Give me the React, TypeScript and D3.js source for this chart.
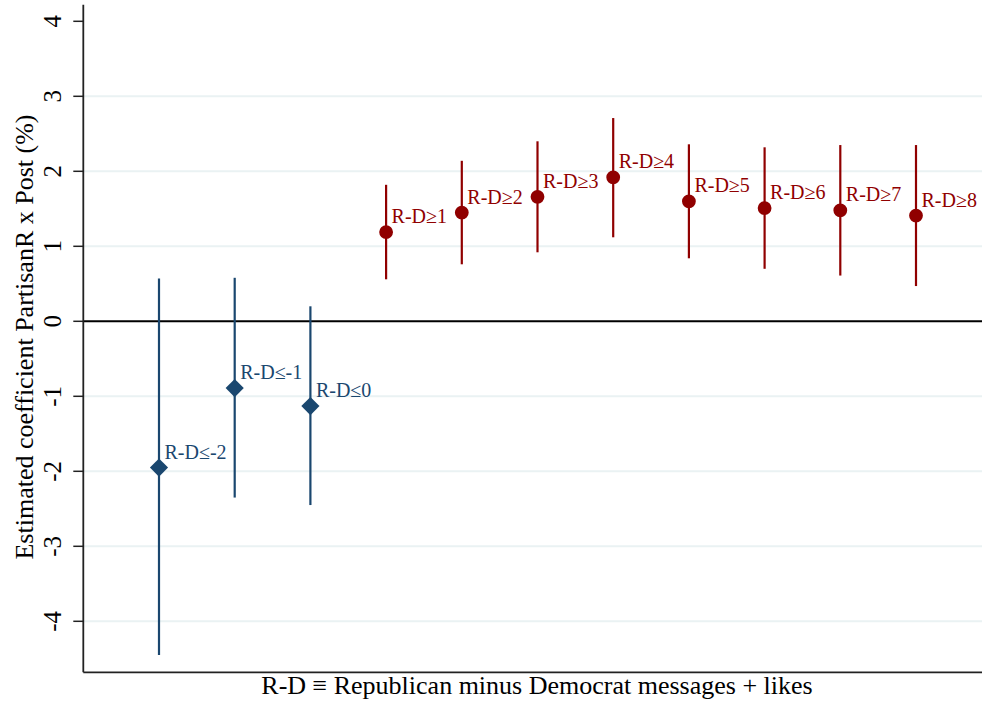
import React from "react";
import * as d3 from "d3";

const blueLabels = ["R-D≤-2", "R-D≤-1", "R-D≤0"];
const blueX = [-2, -1, 0];
const blueEst = [-1.95, -0.89, -1.13];
const blueLo = [-4.45, -2.35, -2.45];
const blueHi = [0.57, 0.58, 0.2];

const redLabels = ["R-D≥1", "R-D≥2", "R-D≥3", "R-D≥4", "R-D≥5", "R-D≥6", "R-D≥7", "R-D≥8"];
const redX = [1, 2, 3, 4, 5, 6, 7, 8];
const redEst = [1.19, 1.45, 1.66, 1.92, 1.6, 1.51, 1.48, 1.41];
const redLo = [0.56, 0.76, 0.92, 1.12, 0.84, 0.7, 0.61, 0.47];
const redHi = [1.82, 2.14, 2.4, 2.71, 2.36, 2.32, 2.35, 2.35];

const yTicks = [-4, -3, -2, -1, 0, 1, 2, 3, 4];
const gridValues = [-4, -3, -2, -1, 1, 2, 3];

const W = 982;
const H = 701;
const BLUE = "#1a476f";
const RED = "#900000";
const FONT = "'Liberation Serif', 'Times New Roman', serif";

export default function App() {
  const x = d3.scaleLinear().domain([-3, 9]).range([83.3, 83.3 + 12 * 75.7]);
  const y = d3.scaleLinear().domain([0, 1]).range([321.3, 246.3]);
  const left = 83.3;
  const right = 982;
  const bottom = y(-4.68);
  const top = y(4.22);
  const diamond = d3.symbol().type(d3.symbolSquare).size(165);
  const circle = d3.symbol().type(d3.symbolCircle).size(150);

  return (
    <svg width={W} height={H} style={{ position: "absolute", left: 0, top: 0, background: "#fff" }} fontFamily={FONT}>
      <rect x={0} y={0} width={W} height={H} fill="#fff" />
      {gridValues.map((v) => (
        <line key={"g" + v} x1={left} x2={right} y1={y(v)} y2={y(v)} stroke="#eaf2f3" strokeWidth={2} />
      ))}
      <line x1={left} x2={right} y1={y(0)} y2={y(0)} stroke="#000" strokeWidth={2} />
      {/* blue series */}
      {blueX.map((xv, i) => (
        <g key={"b" + i}>
          <line x1={x(xv)} x2={x(xv)} y1={y(blueLo[i])} y2={y(blueHi[i])} stroke={BLUE} strokeWidth={2.2} />
          <path d={diamond()!} transform={`translate(${x(xv)},${y(blueEst[i])}) rotate(45)`} fill={BLUE} />
          <text x={x(xv) + 5.5} y={y(blueEst[i]) - 9} fontSize={20} fill={BLUE}>
            {blueLabels[i]}
          </text>
        </g>
      ))}
      {/* red series */}
      {redX.map((xv, i) => (
        <g key={"r" + i}>
          <line x1={x(xv)} x2={x(xv)} y1={y(redLo[i])} y2={y(redHi[i])} stroke={RED} strokeWidth={2.2} />
          <path d={circle()!} transform={`translate(${x(xv)},${y(redEst[i])})`} fill={RED} />
          <text x={x(xv) + 5.5} y={y(redEst[i]) - 9} fontSize={20} fill={RED}>
            {redLabels[i]}
          </text>
        </g>
      ))}
      {/* axes */}
      <line x1={left} x2={left} y1={top} y2={bottom} stroke="#222" strokeWidth={1.8} />
      <line x1={left} x2={right} y1={bottom} y2={bottom} stroke="#222" strokeWidth={1.8} />
      {yTicks.map((t) => (
        <g key={"t" + t}>
          <line x1={left - 10} x2={left} y1={y(t)} y2={y(t)} stroke="#222" strokeWidth={1.5} />
          <text
            x={61}
            y={y(t)}
            transform={`rotate(-90, 61, ${y(t)})`}
            textAnchor="middle"
            fontSize={25}
            fill="#000"
          >
            {t}
          </text>
        </g>
      ))}
      <text
        x={33}
        y={337}
        transform="rotate(-90, 33, 337)"
        textAnchor="middle"
        fontSize={26}
        fill="#000"
      >
        Estimated coefficient PartisanR x Post (%)
      </text>
      <text x={537} y={694} textAnchor="middle" fontSize={26} fill="#000">
        R-D ≡ Republican minus Democrat messages + likes
      </text>
    </svg>
  );
}
